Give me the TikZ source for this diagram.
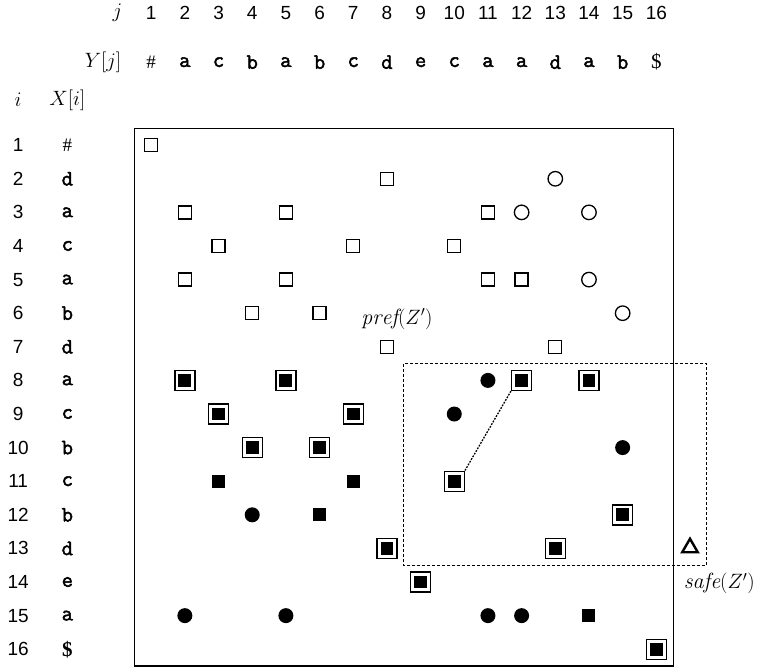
\documentclass[tikz,border=0pt]{standalone}
\usepackage{fontspec}
\setsansfont{Liberation Sans}
\newfontfamily\tmsfont{Liberation Serif}
\newfontfamily\boldmono[FakeBold=2.2]{Latin Modern Mono}
\usetikzlibrary{shapes.geometric}
\tikzset{
  osq/.style={rectangle, draw, line width=1.3pt, minimum size=13pt, inner sep=0pt},
  ocirc/.style={circle, draw, line width=1.3pt, minimum size=14.5pt, inner sep=0pt},
  fcirc/.style={circle, fill, minimum size=15pt, inner sep=0pt},
  fsq/.style={rectangle, fill, minimum size=13pt, inner sep=0pt},
  dsq/.style={rectangle, draw, line width=1.4pt, minimum size=20pt, inner sep=0pt,
    path picture={\fill ([shift={(3.6pt,3.6pt)}]path picture bounding box.south west) rectangle ([shift={(-3.6pt,-3.6pt)}]path picture bounding box.north east);}},
  tri/.style={regular polygon, regular polygon sides=3, draw, line width=2.4pt, minimum size=18pt, inner sep=0pt},
  numlab/.style={font=\sffamily\fontsize{19}{22}\selectfont, inner sep=0pt},
  chlab/.style={font=\boldmono\fontsize{22}{24}\selectfont, inner sep=0pt},
  mathlab/.style={font=\fontsize{22}{24}\selectfont, inner sep=0pt},
  frame/.style={draw, line width=1.2pt},
  dbox/.style={draw, line width=1.3pt, dash pattern=on 3pt off 2pt},
  dline/.style={draw, line width=1.3pt, dash pattern=on 1.8pt off 1.3pt},
}
\begin{document}
\begin{tikzpicture}[x=33.67pt, y=-33.6pt]
\useasboundingbox (-3.49,-3.32) rectangle (18.99,16.66);
% headers
\node[mathlab] (hj) at (0,-2.93) {$j$};
\node[mathlab] (hY) at (-0.43,-1.47) {$Y[j]$};
\node[mathlab] (hi) at (-2.95,-0.34) {$i$};
\node[mathlab] (hX) at (-1.49,-0.34) {$X[i]$};
\foreach \k in {1,...,16} {
  \node[numlab] (cj\k) at (\k,-2.93) {\k};
  \node[numlab] (ri\k) at (-2.95,\k) {\k};
}
% Y[j]
\node[mathlab, font=\tmsfont\fontsize{19}{22}\selectfont] (y1) at (1,-1.47) {\#};
\foreach \c [count=\k from 2] in {a,c,b,a,b,c,d,e,c,a,a,d,a,b} {
  \node[chlab] (y\k) at (\k,-1.47) {\c};
}
\node[mathlab, font=\tmsfont\fontsize{21}{24}\selectfont] (y16) at (16,-1.47) {\$};
% X[i]
\node[mathlab, font=\tmsfont\fontsize{19}{22}\selectfont] (x1) at (-1.49,1) {\#};
\foreach \c [count=\k from 2] in {d,a,c,a,b,d,a,c,b,c,b,d,e,a} {
  \node[chlab] (x\k) at (-1.49,\k) {\c};
}
\node[mathlab, font=\tmsfont\bfseries\fontsize{21}{24}\selectfont] (x16) at (-1.49,16) {\$};
% frame
\draw[frame] (0.5,0.5) rectangle (16.5,16.5);
% open squares
\foreach \i/\j in {1/1,2/8,3/2,3/5,3/11,4/3,4/7,4/10,5/2,5/5,5/11,5/12,6/4,6/6,7/8,7/13}
  \node[osq] (m-\i-\j) at (\j,\i) {};
% open circles
\foreach \i/\j in {2/13,3/12,3/14,5/14,6/15}
  \node[ocirc] (m-\i-\j) at (\j,\i) {};
% double squares
\foreach \i/\j in {8/2,8/5,8/12,8/14,9/3,9/7,10/4,10/6,11/10,12/15,13/8,13/13,14/9,16/16}
  \node[dsq] (m-\i-\j) at (\j,\i) {};
% filled circles
\foreach \i/\j in {8/11,9/10,10/15,12/4,15/2,15/5,15/11,15/12}
  \node[fcirc] (m-\i-\j) at (\j,\i) {};
% filled squares
\foreach \i/\j in {11/3,11/7,12/6,15/14}
  \node[fsq] (m-\i-\j) at (\j,\i) {};
% triangle
\node[tri] (tri) at (17,12.98) {};
% dashed box
\draw[dbox] (8.5,7.5) rectangle (17.5,13.5);
% dotted link
\draw[dline] (m-11-10.north east) -- (m-8-12.south west);
% labels
\node[mathlab] (pref) at (8.3,6.18) {$\mathit{pref}(Z')$};
\node[mathlab] (safe) at (17.87,14.04) {$\mathit{safe}(Z')$};
\end{tikzpicture}
\end{document}
